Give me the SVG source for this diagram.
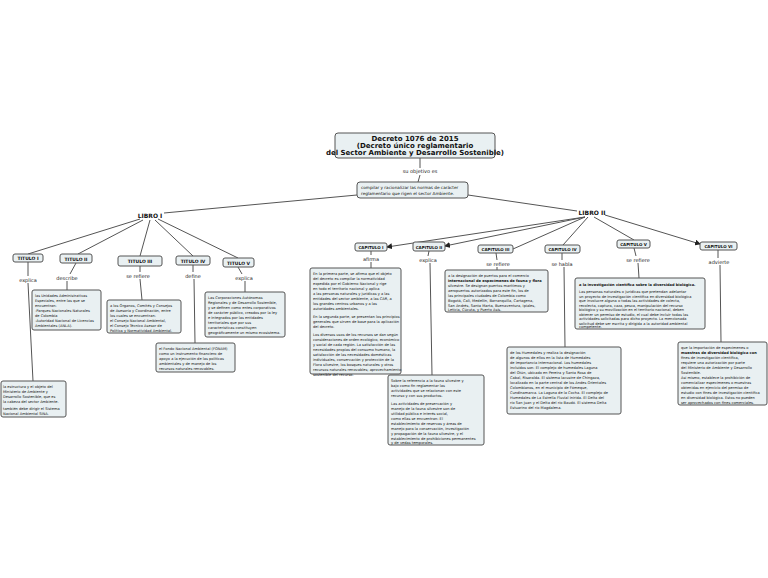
<svg xmlns="http://www.w3.org/2000/svg" width="768" height="578" viewBox="0 0 768 578">
<style>
.n{fill:#e9f0f2;stroke:#555;stroke-width:1;}
.t{font-family:"DejaVu Sans",sans-serif;font-size:3.6px;fill:#111;}
.b{font-weight:bold;}
.l{font-family:"DejaVu Sans",sans-serif;font-size:5px;fill:#222;text-anchor:middle;}
.h{font-family:"DejaVu Sans",sans-serif;font-size:4.5px;font-weight:bold;fill:#111;text-anchor:middle;}
.c line{stroke:#555;stroke-width:1;fill:none;}
</style>
<defs><marker id="a" markerWidth="6" markerHeight="6" refX="5" refY="3" orient="auto"><path d="M0,0L6,3L0,6z" fill="#222"/></marker></defs>
<rect width="768" height="578" fill="#fff"/>
<g class="c">
<line x1="420" y1="158" x2="420" y2="168"/><line x1="420" y1="175" x2="418" y2="182"/>
<line x1="357" y1="195" x2="164" y2="213"/><line x1="468" y1="195" x2="577" y2="211"/>
<line x1="140" y1="219" x2="28" y2="254"/><line x1="143" y1="220" x2="78" y2="254"/><line x1="150" y1="220" x2="140" y2="256"/><line x1="155" y1="220" x2="193" y2="256"/><line x1="158" y1="219" x2="238" y2="258"/>
<line x1="28" y1="262" x2="28" y2="276"/><line x1="28" y1="283" x2="33" y2="381"/>
<line x1="76" y1="263" x2="70" y2="274"/><line x1="67" y1="281" x2="67" y2="290"/>
<line x1="140" y1="266" x2="140" y2="272"/><line x1="140" y1="279" x2="142" y2="300"/>
<line x1="193" y1="265" x2="193" y2="272"/><line x1="194" y1="279" x2="195" y2="343"/>
<line x1="238" y1="267" x2="242" y2="274"/><line x1="245" y1="281" x2="245" y2="292"/>
<line x1="585" y1="217" x2="387" y2="247" marker-end="url(#a)"/><line x1="585" y1="217" x2="445" y2="246" marker-end="url(#a)"/><line x1="585" y1="217" x2="513" y2="249"/><line x1="588" y1="217" x2="563" y2="245"/><line x1="594" y1="217" x2="634" y2="240"/><line x1="605" y1="215" x2="700" y2="244" marker-end="url(#a)"/>
<line x1="371" y1="251" x2="371" y2="255"/><line x1="371" y1="262" x2="371" y2="268"/>
<line x1="429" y1="251" x2="428" y2="256"/><line x1="430" y1="263" x2="432" y2="375"/>
<line x1="496" y1="253" x2="497" y2="260"/><line x1="497" y1="267" x2="497" y2="270"/>
<line x1="562" y1="253" x2="562" y2="260"/><line x1="564" y1="267" x2="565" y2="347"/>
<line x1="634" y1="248" x2="636" y2="256"/><line x1="638" y1="263" x2="639" y2="278"/>
<line x1="718" y1="250" x2="718" y2="258"/><line x1="720" y1="265" x2="721" y2="342"/>
</g>
<g id="root"><rect class="n" x="335" y="133" width="160" height="25" rx="3"/><text class="h" style="font-size:7px" x="415" y="141">Decreto 1076 de 2015</text><text class="h" style="font-size:7px" x="415" y="148">(Decreto único reglamentario</text><text class="h" style="font-size:7px" x="415" y="155">del Sector Ambiente y Desarrollo Sostenible)</text></g>
<text class="l" x="420" y="173">su objetivo es</text>
<g id="obj"><rect class="n" x="357" y="182" width="111" height="16" rx="3"/><text class="t" style="font-size:4.2px" x="361" y="189">compilar y racionalizar las normas de carácter</text><text class="t" style="font-size:4.2px" x="361" y="195">reglamentario que rigen el sector Ambiente.</text></g>
<g id="libro1"><text class="h" style="font-size:6px" x="150" y="218">LIBRO I</text></g>
<g id="libro2"><text class="h" style="font-size:6px" x="592" y="215">LIBRO II</text></g>
<g id="t1"><rect class="n" x="13" y="254" width="30" height="8" rx="2"/><text class="h" x="28" y="260">TITULO I</text></g>
<g id="t2"><rect class="n" x="60" y="254" width="32" height="9" rx="2"/><text class="h" x="76" y="260.5">TITULO II</text></g>
<g id="t3"><rect class="n" x="118" y="256" width="44" height="10" rx="2"/><text class="h" x="140" y="263">TITULO III</text></g>
<g id="t4"><rect class="n" x="176" y="256" width="34" height="9" rx="2"/><text class="h" x="193" y="262.5">TITULO IV</text></g>
<g id="t5"><rect class="n" x="223" y="258" width="31" height="9" rx="2"/><text class="h" x="238.5" y="264.5">TITULO V</text></g>
<text class="l" x="28" y="282">explica</text><text class="l" x="67" y="280">describe</text><text class="l" x="138" y="278">se refiere</text><text class="l" x="193" y="278">define</text><text class="l" x="244" y="280">explica</text>
<g id="b2"><rect class="n" x="32" y="290" width="69" height="40" rx="2"/><text class="t" x="35" y="297">las Unidades Administrativas</text><text class="t" x="35" y="302">Especiales, entre las que se</text><text class="t" x="35" y="307">encuentran:</text><text class="t" x="35" y="312">-Parques Nacionales Naturales</text><text class="t" x="35" y="317">de Colombia</text><text class="t" x="35" y="322">-Autoridad Nacional de Licencias</text><text class="t" x="35" y="327">Ambientales (ANLA).</text></g>
<g id="b3"><rect class="n" x="107" y="300" width="74" height="33" rx="2"/><text class="t" x="110" y="307">a los Órganos, Comités y Consejos</text><text class="t" x="110" y="312">de Asesoría y Coordinación, entre</text><text class="t" x="110" y="317">los cuales se encuentran:</text><text class="t" x="110" y="322">el Consejo Nacional Ambiental,</text><text class="t" x="110" y="327">el Consejo Técnico Asesor de</text><text class="t" x="110" y="332">Política y Normatividad Ambiental.</text></g>
<g id="b5"><rect class="n" x="205" y="292" width="80" height="45" rx="2"/><text class="t" x="208" y="299">Las Corporaciones Autónomas</text><text class="t" x="208" y="304">Regionales y de Desarrollo Sostenible,</text><text class="t" x="208" y="309">y se definen como entes corporativos</text><text class="t" x="208" y="314">de carácter público, creados por la ley</text><text class="t" x="208" y="319">e integrados por las entidades</text><text class="t" x="208" y="324">territoriales que por sus</text><text class="t" x="208" y="329">características constituyen</text><text class="t" x="208" y="334">geográficamente un mismo ecosistema.</text></g>
<g id="b4"><rect class="n" x="156" y="343" width="79" height="29" rx="2"/><text class="t" x="159" y="350">el Fondo Nacional Ambiental (FONAM)</text><text class="t" x="159" y="355">como un instrumento financiero de</text><text class="t" x="159" y="360">apoyo a la ejecución de las políticas</text><text class="t" x="159" y="365">ambientales y de manejo de los</text><text class="t" x="159" y="370">recursos naturales renovables.</text></g>
<g id="b1"><rect class="n" x="1" y="381" width="65" height="36" rx="2"/><text class="t" x="3" y="388">la estructura y el objeto del</text><text class="t" x="3" y="393">Ministerio de Ambiente y</text><text class="t" x="3" y="398">Desarrollo Sostenible, que es</text><text class="t" x="3" y="403">la cabeza del sector Ambiente.</text><text class="t" x="3" y="410">también debe dirigir el Sistema</text><text class="t" x="3" y="415">Nacional Ambiental SINA.</text></g>
<g id="c1"><rect class="n" x="355" y="243" width="32" height="8" rx="2"/><text class="h" style="font-size:4px" x="371" y="249">CAPITULO I</text></g>
<g id="c2"><rect class="n" x="413" y="242" width="32" height="9" rx="2"/><text class="h" style="font-size:4px" x="429" y="248.5">CAPITULO II</text></g>
<g id="c3"><rect class="n" x="478" y="245" width="35" height="8" rx="2"/><text class="h" style="font-size:4px" x="495.5" y="251">CAPITULO III</text></g>
<g id="c4"><rect class="n" x="545" y="245" width="35" height="8" rx="2"/><text class="h" style="font-size:4px" x="562.5" y="251">CAPITULO IV</text></g>
<g id="c5"><rect class="n" x="617" y="240" width="33" height="8" rx="2"/><text class="h" style="font-size:4px" x="633.5" y="246">CAPITULO V</text></g>
<g id="c6"><rect class="n" x="700" y="242" width="37" height="8" rx="2"/><text class="h" style="font-size:4px" x="718.5" y="248">CAPITULO VI</text></g>
<text class="l" x="371" y="261">afirma</text><text class="l" x="428" y="262">explica</text><text class="l" x="498" y="266">se refiere</text><text class="l" x="562" y="266">se habla</text><text class="l" x="638" y="262">se refiere</text><text class="l" x="719" y="264">advierte</text>
<g id="bc1"><rect class="n" x="310" y="268" width="91" height="106" rx="2"/><text class="t" x="313" y="275">En la primera parte, se afirma que el objeto</text><text class="t" x="313" y="280">del decreto es compilar la normatividad</text><text class="t" x="313" y="285">expedida por el Gobierno Nacional y rige</text><text class="t" x="313" y="290">en todo el territorio nacional y aplica</text><text class="t" x="313" y="295">a las personas naturales y jurídicas y a las</text><text class="t" x="313" y="300">entidades del sector ambiente, a las CAR, a</text><text class="t" x="313" y="305">los grandes centros urbanos y a las</text><text class="t" x="313" y="310">autoridades ambientales.</text><text class="t" x="313" y="318">En la segunda parte, se presentan los principios</text><text class="t" x="313" y="323">generales que sirven de base para la aplicación</text><text class="t" x="313" y="328">del decreto.</text><text class="t" x="313" y="336">Los diversos usos de los recursos se dan según</text><text class="t" x="313" y="341">consideraciones de orden ecológico, económico</text><text class="t" x="313" y="346">y social de cada región. La satisfacción de las</text><text class="t" x="313" y="351">necesidades propias del consumo humano, la</text><text class="t" x="313" y="356">satisfacción de las necesidades domésticas</text><text class="t" x="313" y="361">individuales, conservación y protección de la</text><text class="t" x="313" y="366">Flora silvestre, los bosques naturales y otros</text><text class="t" x="313" y="371">recursos naturales renovables; aprovechamiento</text><text class="t" x="313" y="375.5">sostenible del recurso.</text></g>
<g id="bc3"><rect class="n" x="445" y="270" width="103" height="42" rx="2"/><text class="t" x="448" y="277">a la designación de puertos para el comercio</text><text class="t b" x="448" y="282">internacional de especímenes de fauna y flora</text><text class="t" x="448" y="287">silvestre. Se designan puertos marítimos y</text><text class="t" x="448" y="292">aeropuertos autorizados para este fin, los de</text><text class="t" x="448" y="297">las principales ciudades de Colombia como</text><text class="t" x="448" y="302">Bogotá, Cali, Medellín, Barranquilla, Cartagena,</text><text class="t" x="448" y="307">San Andrés, Santa Marta, Buenaventura, Ipiales,</text><text class="t" x="448" y="311">Leticia, Cúcuta, y Puerto Asís.</text></g>
<g id="bc5"><rect class="n" x="575" y="278" width="130" height="51" rx="2"/><text class="t b" x="579" y="286">a la investigación científica sobre la diversidad biológica.</text><text class="t" x="579" y="293">Las personas naturales o jurídicas que pretendan adelantar</text><text class="t" x="579" y="297.5">un proyecto de investigación científica en diversidad biológica</text><text class="t" x="579" y="302">que involucre alguna o todas las actividades de colecta,</text><text class="t" x="579" y="306.5">recolecta, captura, caza, pesca, manipulación del recurso</text><text class="t" x="579" y="311">biológico y su movilización en el territorio nacional, deben</text><text class="t" x="579" y="315.5">obtener un permiso de estudio, el cual debe incluir todas las</text><text class="t" x="579" y="320">actividades solicitadas para dicho proyecto. La mencionada</text><text class="t" x="579" y="324.5">solicitud debe ser escrita y dirigida a la autoridad ambiental</text><text class="t" x="579" y="328">competente.</text></g>
<g id="bc2"><rect class="n" x="388" y="375" width="96" height="70" rx="2"/><text class="t" x="391" y="382">Sobre la referencia a la fauna silvestre y</text><text class="t" x="391" y="387">bajo como fin reglamentar las</text><text class="t" x="391" y="392">actividades que se relacionan con este</text><text class="t" x="391" y="397">recurso y con sus productos.</text><text class="t" x="391" y="405">Las actividades de preservación y</text><text class="t" x="391" y="410">manejo de la fauna silvestre son de</text><text class="t" x="391" y="415">utilidad pública e interés social,</text><text class="t" x="391" y="420">como ellas se encuentran: El</text><text class="t" x="391" y="425">establecimiento de reservas y áreas de</text><text class="t" x="391" y="430">manejo para la conservación, investigación</text><text class="t" x="391" y="435">y propagación de la fauna silvestre, y el</text><text class="t" x="391" y="440">establecimiento de prohibiciones permanentes</text><text class="t" x="391" y="444">y de vedas temporales.</text></g>
<g id="bc4"><rect class="n" x="507" y="347" width="114" height="67" rx="2"/><text class="t" x="510" y="354">de los Humedales y realiza la designación</text><text class="t" x="510" y="359">de algunos de ellos en la lista de Humedales</text><text class="t" x="510" y="364">de Importancia Internacional. Los humedales</text><text class="t" x="510" y="369">incluidos son: El complejo de humedales Laguna</text><text class="t" x="510" y="374">del Otún, ubicado en Pereira y Santa Rosa de</text><text class="t" x="510" y="379">Cabal, Risaralda. El sistema lacustre de Chingaza,</text><text class="t" x="510" y="384">localizado en la parte central de los Andes Orientales</text><text class="t" x="510" y="389">Colombianos, en el municipio de Fómeque,</text><text class="t" x="510" y="394">Cundinamarca. La Laguna de la Cocha. El complejo de</text><text class="t" x="510" y="399">Humedales de La Estrella Fluvial Inírida. El Delta del</text><text class="t" x="510" y="404">río San Juan y el Delta del río Baudó. El sistema Delta</text><text class="t" x="510" y="409">Estuarino del río Magdalena.</text></g>
<g id="bc6"><rect class="n" x="678" y="342" width="89" height="63" rx="2"/><text class="t" x="681" y="349">que la importación de especímenes o</text><text class="t b" x="681" y="354">muestras de diversidad biológica con</text><text class="t" x="681" y="359">fines de investigación científica,</text><text class="t" x="681" y="364">requiere una autorización por parte</text><text class="t" x="681" y="369">del Ministerio de Ambiente y Desarrollo</text><text class="t" x="681" y="374">Sostenible.</text><text class="t" x="681" y="379">Así mismo, establece la prohibición de</text><text class="t" x="681" y="384">comercializar especímenes o muestras</text><text class="t" x="681" y="389">obtenidas en ejercicio del permiso de</text><text class="t" x="681" y="394">estudio con fines de investigación científica</text><text class="t" x="681" y="399">en diversidad biológica. Estos no pueden</text><text class="t" x="681" y="404">ser aprovechados con fines comerciales.</text></g>
</svg>
